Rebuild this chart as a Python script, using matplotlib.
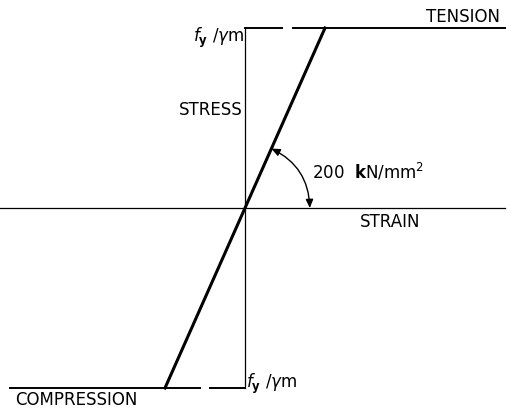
import numpy as np
import matplotlib.pyplot as plt

# normalised units: strain / yield strain, stress / (fy/gamma_m)
strain_elastic = [-1.0, 0.0, 1.0]
stress_elastic = [-1.0, 0.0, 1.0]

# plateau lines (with the small break next to the stress axis)
tension_x = [[0.0, 0.46], [0.6, 3.25]]
compression_x = [[-2.94, -0.56], [-0.44, 0.0]]
yield_stress = 1.0

axis_x = [-3.06, 3.25]
axis_y = [-1.0, 1.0]

modulus_label = r'200  $\mathbf{k}$N/mm$^2$'
fy_label = r'$f_{\mathbf{y}}$ /$\gamma$m'

plt.rcParams['font.family'] = 'DejaVu Sans'
plt.rcParams['mathtext.fontset'] = 'dejavusans'

fig = plt.figure(figsize=(5.09, 4.08), dpi=100, facecolor='white')
ax = fig.add_axes([0, 0, 1, 1])
ax.set_xlim(-3.0625, 3.3)
ax.set_ylim(-1.111, 1.1556)
ax.axis('off')

# axes of the diagram
ax.plot(axis_x, [0, 0], color='black', lw=0.9)
ax.plot([0, 0], axis_y, color='black', lw=0.9)

# plateaus
for seg in tension_x:
    ax.plot(seg, [yield_stress, yield_stress], color='black', lw=1.4)
for seg in compression_x:
    ax.plot(seg, [-yield_stress, -yield_stress], color='black', lw=1.4)

# elastic branch
ax.plot(strain_elastic, stress_elastic, color='black', lw=2.2)

# modulus arc
ax.annotate('', xy=(0.81, 0.0), xytext=(0.33, 0.33),
            arrowprops=dict(arrowstyle='<|-|>,head_length=0.5,head_width=0.22',
                            connectionstyle='arc3,rad=-0.3',
                            color='black', lw=1.0, shrinkA=0, shrinkB=0))

fs = 12
ax.text(3.19, 1.061, 'TENSION', ha='right', va='center', fontsize=fs)
ax.text(-0.01, 0.944, fy_label, ha='right', va='center', fontsize=fs)
ax.text(-0.025, 0.544, 'STRESS', ha='right', va='center', fontsize=fs)
ax.text(0.84, 0.2, modulus_label, ha='left', va='center', fontsize=fs)
ax.text(1.44, -0.078, 'STRAIN', ha='left', va='center', fontsize=fs)
ax.text(-2.875, -1.064, 'COMPRESSION', ha='left', va='center', fontsize=fs)
ax.text(0.01, -0.975, fy_label, ha='left', va='center', fontsize=fs)

plt.savefig('out.png', dpi=100, facecolor='white')
